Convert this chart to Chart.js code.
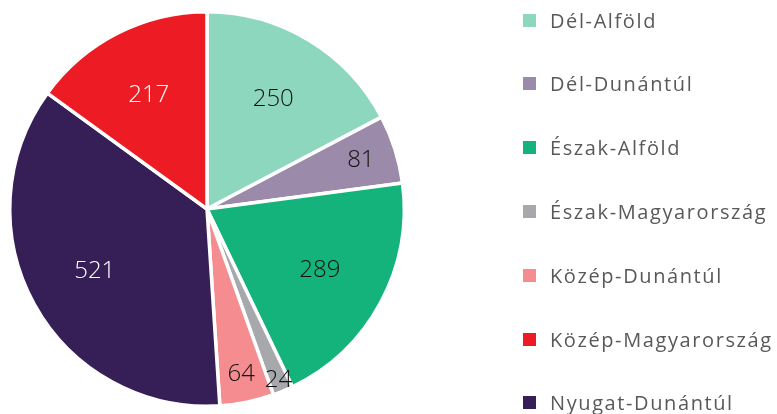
<!DOCTYPE html>
<html>
<head>
<meta charset="utf-8">
<script src="https://cdn.jsdelivr.net/npm/chart.js@4"></script>
<style>
  html, body { margin: 0; padding: 0; background: #fff; }
  #wrap { position: relative; width: 777px; height: 414px; }
  #pie { position: absolute; left: 0; top: 0; }
  #legend { position: absolute; left: 523px; top: 0; margin: 0; padding: 0; list-style: none;
            font-family: "Open Sans", sans-serif; font-size: 20px; letter-spacing: 1.6px; color: #595959; }
  #legend li { position: absolute; left: 0; height: 24px; line-height: 24px; white-space: nowrap; }
  #legend span.box { position: absolute; left: 0; top: 5px; width: 13px; height: 13px; }
  #legend span.txt { position: absolute; left: 27px; top: 0; }
</style>
</head>
<body>
<div id="wrap">
  <canvas id="pie" width="777" height="414"></canvas>
  <ul id="legend"></ul>
</div>
<script>
// régiók (a szeletek sorrendjében, óramutató szerint)
const regions = ['Dél-Alföld','Dél-Dunántúl','Észak-Alföld','Észak-Magyarország','Közép-Dunántúl','Nyugat-Dunántúl','Közép-Magyarország'];
const counts = [250, 81, 289, 24, 64, 521, 217];
const sliceColors = ['#8dd7bf','#9b8aa9','#14b37c','#a7a8ac','#f58d90','#361e57','#ed1c24'];
const labelColors = ['#111','#111','#111','#111','#111','#fff','#fff'];
// jelmagyarázat sorrendje
const legendOrder = ['Dél-Alföld','Dél-Dunántúl','Észak-Alföld','Észak-Magyarország','Közép-Dunántúl','Közép-Magyarország','Nyugat-Dunántúl'];

// értékek a szeleteken
const valueLabels = {
  id: 'valueLabels',
  afterDatasetsDraw(chart) {
    const ctx = chart.ctx;
    const meta = chart.getDatasetMeta(0);
    ctx.save();
    ctx.font = '300 24px "Open Sans", sans-serif';
    ctx.textAlign = 'center';
    ctx.textBaseline = 'middle';
    meta.data.forEach((arc, i) => {
      const p = arc.getProps(['x','y','startAngle','endAngle','outerRadius'], true);
      const mid = (p.startAngle + p.endAngle) / 2;
      const deg = (p.endAngle - p.startAngle) * 180 / Math.PI;
      // kis szeleteknél kijjebb
      const f = Math.max(0.65, Math.min(0.94, 1 - deg * 0.009));
      const r = p.outerRadius * f;
      ctx.fillStyle = labelColors[i];
      ctx.fillText(String(counts[i]), p.x + Math.cos(mid) * r, p.y + Math.sin(mid) * r);
    });
    ctx.restore();
  }
};

const chart = new Chart(document.getElementById('pie').getContext('2d'), {
  type: 'pie',
  data: {
    labels: regions,
    datasets: [{
      data: counts,
      backgroundColor: sliceColors,
      borderColor: '#fff',
      borderWidth: 3.5
    }]
  },
  options: {
    responsive: false,
    animation: false,
    layout: { padding: { left: 8, top: 9, right: 371, bottom: 5 } },
    plugins: {
      legend: { display: false },
      tooltip: { enabled: false }
    }
  },
  plugins: [valueLabels]
});

// jelmagyarázat
const legendTops = [8.5, 72, 136, 200, 264, 328, 391];
const ul = document.getElementById('legend');
legendOrder.forEach((name, i) => {
  const li = document.createElement('li');
  li.style.top = legendTops[i] + 'px';
  const c = sliceColors[regions.indexOf(name)];
  li.innerHTML = '<span class="box" style="background:' + c + '"></span><span class="txt">' + name + '</span>';
  ul.appendChild(li);
});
</script>
</body>
</html>
